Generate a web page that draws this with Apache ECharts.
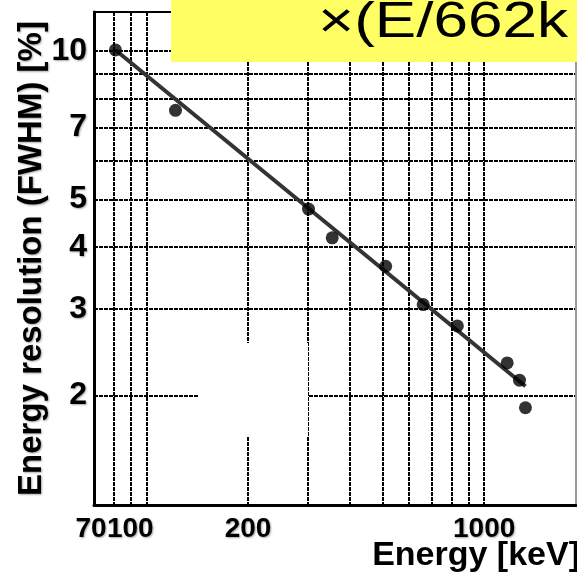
<!DOCTYPE html>
<html>
<head>
<meta charset="utf-8">
<script src="https://cdn.jsdelivr.net/npm/echarts@6/dist/echarts.min.js"></script>
<style>
  html, body { margin: 0; padding: 0; background: #fff; }
  #chart { width: 577px; height: 574px; }
</style>
</head>
<body>
<div id="chart"></div>
<script>
// Measured energy resolution of the detector at each gamma line
const energy = [81, 122, 302, 355, 511, 660, 833, 1170, 1272, 1325];
const resolution = [10.05, 7.58, 4.78, 4.18, 3.66, 3.06, 2.77, 2.33, 2.15, 1.89];

// End points of the power-law fit
const fitEnergy = [81, 1325];
const fitResolution = [10.05, 2.09];

// Axis labels and grid positions
const xTickLabels = [70, 100, 200, 1000];
const xGridValues = [80, 90, 100, 200, 300, 400, 500, 600, 700, 800, 900, 1000];
const yTickLabels = [2, 3, 4, 5, 7, 10];
const yGridValues = [2, 3, 4, 5, 6, 7, 8, 9, 10];

const X_MIN = 70, X_MAX = 1870, Y_MIN = 1.2, Y_MAX = 12;
const FONT = '"Liberation Sans", Arial, Helvetica, sans-serif';
const labelStyle = {
  fontFamily: FONT,
  fontWeight: 'bold',
  color: '#000',
  textShadowColor: 'rgba(0,0,0,0.35)',
  textShadowBlur: 2,
  textShadowOffsetX: 1,
  textShadowOffsetY: 1
};
const gridLine = { color: '#000', width: 2, type: [4, 1] };

const chart = echarts.init(document.getElementById('chart'), null, { renderer: 'canvas' });

const points = energy.map((e, i) => [e, resolution[i]]);
const fitLine = fitEnergy.map((e, i) => [e, fitResolution[i]]);

// plain log axis with no visible parts, used as a base for helper axes
const bareLogX = (extra) => Object.assign({
  type: 'log', min: X_MIN, max: X_MAX, logBase: 10,
  axisLine: { show: false }, axisTick: { show: false },
  axisLabel: { show: false }, splitLine: { show: false }
}, extra);

chart.setOption({
  animation: false,
  backgroundColor: '#fff',
  grid: { left: 94, right: 1, top: 12, bottom: 69, containLabel: false },
  xAxis: [
    // main energy axis: grid lines and labels from 100 up
    bareLogX({
      axisLine: { show: true, onZero: false, lineStyle: { color: '#000', width: 3 } },
      axisTick: { show: false, customValues: xGridValues },
      splitLine: { show: true, lineStyle: gridLine },
      axisLabel: Object.assign({
        customValues: xTickLabels.slice(1),
        fontSize: 28,
        margin: 10,
        hideOverlap: false,
        // the "100" label sits nudged left, next to "70"
        formatter: v => Math.round(v) === 100 ? '{shift|100}' : String(Math.round(v)),
        rich: {
          shift: Object.assign({ fontSize: 28, padding: [0, 32, 0, 0] }, labelStyle)
        }
      }, labelStyle)
    }),
    // the lowest label on its own axis so it is never dropped for crowding
    bareLogX({
      position: 'bottom',
      axisLabel: Object.assign({
        show: true,
        customValues: xTickLabels.slice(0, 1),
        fontSize: 28,
        margin: 10,
        showMinLabel: true,
        formatter: v => '{shift|' + Math.round(v) + '}',
        rich: {
          shift: Object.assign({ fontSize: 28, padding: [0, 6, 0, 0] }, labelStyle)
        }
      }, labelStyle)
    }),
    // top frame edge
    bareLogX({
      position: 'top',
      axisLine: { show: true, onZero: false, lineStyle: { color: '#000', width: 2 } }
    })
  ],
  yAxis: [{
    type: 'log',
    min: Y_MIN,
    max: Y_MAX,
    logBase: 10,
    axisLine: { show: true, onZero: false, lineStyle: { color: '#000', width: 3 } },
    axisTick: { show: false, customValues: yGridValues },
    splitLine: { show: true, lineStyle: gridLine },
    axisLabel: Object.assign({
      customValues: yTickLabels,
      fontSize: 32,
      margin: 7,
      hideOverlap: false,
      formatter: v => String(Math.round(v))
    }, labelStyle),
    name: 'Energy resolution (FWHM) [%]',
    nameLocation: 'middle',
    nameRotate: 90,
    nameGap: 46,
    nameMoveOverlap: false,
    nameTextStyle: Object.assign({ fontSize: 33 }, labelStyle)
  }, {
    type: 'log',
    position: 'right',
    min: Y_MIN,
    max: Y_MAX,
    axisLine: { show: true, onZero: false, lineStyle: { color: '#999', width: 2 } },
    axisTick: { show: false },
    axisLabel: { show: false },
    splitLine: { show: false }
  }],
  graphic: [
    // blank patch in the lower middle of the plot
    { type: 'rect', left: 198, top: 343, shape: { width: 110, height: 93 },
      style: { fill: '#fff' }, z: 1, silent: true },
    // yellow caption box
    { type: 'rect', left: 171, top: 0, shape: { width: 406, height: 62 },
      style: { fill: '#ffff64' }, z: 10, silent: true },
    { type: 'text', x: 318, y: -2, z: 11, scaleX: 1.24, silent: true,
      style: { text: '\u00d7(E/662k', fill: '#000', font: '50px ' + FONT, verticalAlign: 'top' } },
    // x axis title
    { type: 'text', right: -3, top: 539, z: 11, silent: true,
      style: { text: 'Energy [keV]', fill: '#000', font: 'bold 34px ' + FONT,
        shadowColor: 'rgba(0,0,0,0.35)', shadowBlur: 2, shadowOffsetX: 1, shadowOffsetY: 1 } }
  ],
  series: [{
    type: 'line',
    data: fitLine,
    symbol: 'none',
    lineStyle: { color: '#333', width: 4 },
    z: 3,
    silent: true
  }, {
    type: 'scatter',
    data: points,
    symbol: 'circle',
    symbolSize: 13,
    itemStyle: { color: '#000' },
    z: 4,
    silent: true
  }]
});
</script>
</body>
</html>
